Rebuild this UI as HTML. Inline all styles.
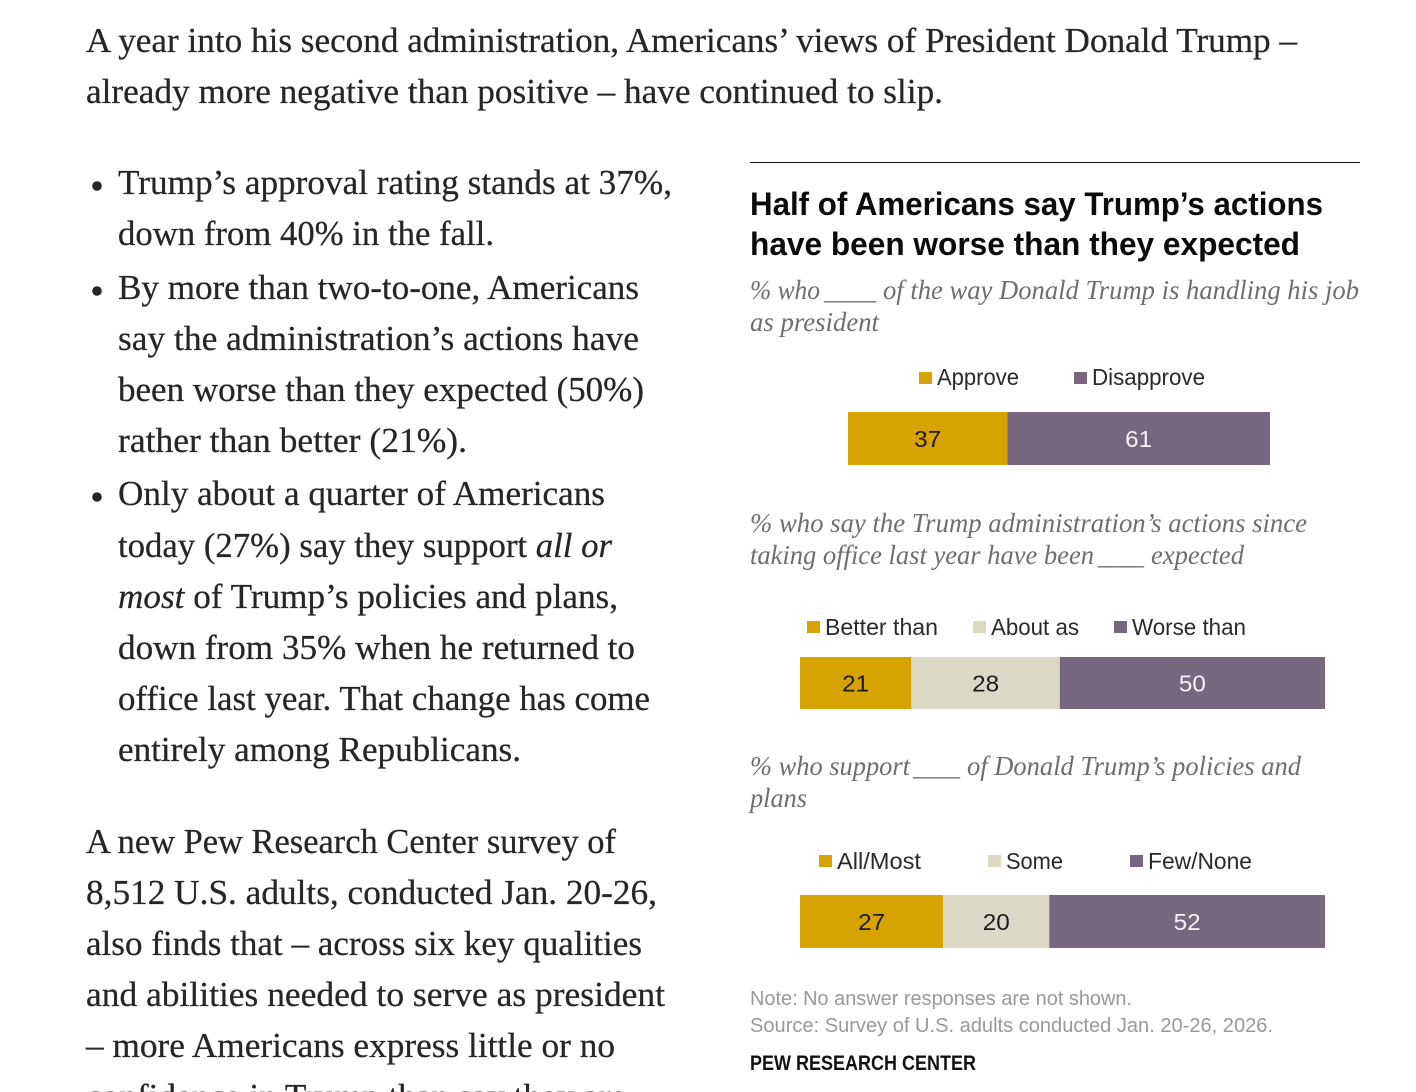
<!DOCTYPE html>
<html lang="en">
<head>
<meta charset="utf-8">
<title>Half of Americans say Trump's actions have been worse than they expected</title>
<style>
html,body{margin:0;padding:0;background:#fff;width:1416px;height:1092px;overflow:hidden}
svg{display:block}
.body text{font-family:"Liberation Serif",serif;font-size:34.5px;fill:#262626;stroke:#262626;stroke-width:.25px}
.title text{font-family:"Liberation Sans",sans-serif;font-size:32px;font-weight:700;fill:#0b0b0b}
.sub text{font-family:"Liberation Serif",serif;font-size:27px;font-style:italic;fill:#6e6e6e}
.legend text{font-family:"Liberation Sans",sans-serif;font-size:23px;fill:#2a2a2a}
.note text{font-family:"Liberation Sans",sans-serif;font-size:20.5px;fill:#999}
.brand{font-family:"Liberation Sans",sans-serif;font-size:21px;font-weight:700;fill:#111}
.value{font-family:"Liberation Sans",sans-serif;font-size:23px;text-anchor:middle}
</style>
</head>
<body>
<svg id="page" width="1416" height="1092" viewBox="0 0 1416 1092" xmlns="http://www.w3.org/2000/svg">
  <rect width="1416" height="1092" fill="#fff"/>

  <g class="body">
    <g>
      <text x="86" y="52" textLength="1211" lengthAdjust="spacingAndGlyphs">A year into his second administration, Americans’ views of President Donald Trump –</text>
      <text x="86" y="103" textLength="857" lengthAdjust="spacingAndGlyphs">already more negative than positive – have continued to slip.</text>
    </g>
    <circle cx="97" cy="186" r="4.8" fill="#262626"/>
    <g>
      <text x="118" y="194" textLength="554" lengthAdjust="spacingAndGlyphs">Trump’s approval rating stands at 37%,</text>
      <text x="118" y="245" textLength="376" lengthAdjust="spacingAndGlyphs">down from 40% in the fall.</text>
    </g>
    <circle cx="97" cy="291" r="4.8" fill="#262626"/>
    <g>
      <text x="118" y="299" textLength="521" lengthAdjust="spacingAndGlyphs">By more than two-to-one, Americans</text>
      <text x="118" y="350" textLength="521" lengthAdjust="spacingAndGlyphs">say the administration’s actions have</text>
      <text x="118" y="401" textLength="526" lengthAdjust="spacingAndGlyphs">been worse than they expected (50%)</text>
      <text x="118" y="452" textLength="349" lengthAdjust="spacingAndGlyphs">rather than better (21%).</text>
    </g>
    <circle cx="97" cy="497" r="4.8" fill="#262626"/>
    <g>
      <text x="118" y="505" textLength="487" lengthAdjust="spacingAndGlyphs">Only about a quarter of Americans</text>
      <text x="118" y="557" textLength="494" lengthAdjust="spacingAndGlyphs">today (27%) say they support <tspan font-style="italic">all or</tspan></text>
      <text x="118" y="608" textLength="500" lengthAdjust="spacingAndGlyphs"><tspan font-style="italic">most</tspan> of Trump’s policies and plans,</text>
      <text x="118" y="659" textLength="517" lengthAdjust="spacingAndGlyphs">down from 35% when he returned to</text>
      <text x="118" y="710" textLength="532" lengthAdjust="spacingAndGlyphs">office last year. That change has come</text>
      <text x="118" y="761" textLength="403" lengthAdjust="spacingAndGlyphs">entirely among Republicans.</text>
    </g>
    <g>
      <text x="86" y="853" textLength="530" lengthAdjust="spacingAndGlyphs">A new Pew Research Center survey of</text>
      <text x="86" y="904" textLength="571" lengthAdjust="spacingAndGlyphs">8,512 U.S. adults, conducted Jan. 20-26,</text>
      <text x="86" y="955" textLength="556" lengthAdjust="spacingAndGlyphs">also finds that – across six key qualities</text>
      <text x="86" y="1006" textLength="579" lengthAdjust="spacingAndGlyphs">and abilities needed to serve as president</text>
      <text x="86" y="1057" textLength="529" lengthAdjust="spacingAndGlyphs">– more Americans express little or no</text>
      <text x="86" y="1108" textLength="540" lengthAdjust="spacingAndGlyphs">confidence in Trump than say they are</text>
    </g>
  </g>

  <g>
    <line x1="750" y1="162.5" x2="1360" y2="162.5" stroke="#111" stroke-width="1"/>
    <g class="title">
      <text x="750" y="215" textLength="573" lengthAdjust="spacingAndGlyphs">Half of Americans say Trump’s actions</text>
      <text x="750" y="255" textLength="550" lengthAdjust="spacingAndGlyphs">have been worse than they expected</text>
    </g>

    <g class="sub">
      <text x="750" y="299" textLength="70" lengthAdjust="spacingAndGlyphs">% who</text>
      <text x="824" y="299" textLength="52" lengthAdjust="spacingAndGlyphs">____</text>
      <text x="883" y="299" textLength="476" lengthAdjust="spacingAndGlyphs">of the way Donald Trump is handling his job</text>
      <text x="750" y="331" textLength="129" lengthAdjust="spacingAndGlyphs">as president</text>
    </g>
    <g class="legend">
      <rect x="919" y="372" width="13" height="12" fill="#d6a302"/>
      <text x="937" y="385" textLength="82" lengthAdjust="spacingAndGlyphs">Approve</text>
      <rect x="1074" y="372" width="13" height="12" fill="#77677e"/>
      <text x="1092" y="385" textLength="113" lengthAdjust="spacingAndGlyphs">Disapprove</text>
    </g>
    <g id="approval-bar"></g>

    <g class="sub">
      <text x="750" y="532" textLength="557" lengthAdjust="spacingAndGlyphs">% who say the Trump administration’s actions since</text>
      <text x="750" y="564" textLength="344" lengthAdjust="spacingAndGlyphs">taking office last year have been</text>
      <text x="1098" y="564" textLength="46" lengthAdjust="spacingAndGlyphs">____</text>
      <text x="1151" y="564" textLength="93" lengthAdjust="spacingAndGlyphs">expected</text>
    </g>
    <g class="legend">
      <rect x="807" y="621" width="13" height="12" fill="#d6a302"/>
      <text x="825" y="635" textLength="113" lengthAdjust="spacingAndGlyphs">Better than</text>
      <rect x="973" y="621" width="13" height="12" fill="#dcd8c6"/>
      <text x="991" y="635" textLength="88" lengthAdjust="spacingAndGlyphs">About as</text>
      <rect x="1114" y="621" width="13" height="12" fill="#77677e"/>
      <text x="1132" y="635" textLength="114" lengthAdjust="spacingAndGlyphs">Worse than</text>
    </g>
    <g id="expectations-bar"></g>

    <g class="sub">
      <text x="750" y="775" textLength="160" lengthAdjust="spacingAndGlyphs">% who support</text>
      <text x="913" y="775" textLength="47" lengthAdjust="spacingAndGlyphs">____</text>
      <text x="967" y="775" textLength="334" lengthAdjust="spacingAndGlyphs">of Donald Trump’s policies and</text>
      <text x="750" y="807" textLength="57" lengthAdjust="spacingAndGlyphs">plans</text>
    </g>
    <g class="legend">
      <rect x="819" y="855" width="13" height="12" fill="#d6a302"/>
      <text x="837" y="869" textLength="84" lengthAdjust="spacingAndGlyphs">All/Most</text>
      <rect x="988" y="855" width="13" height="12" fill="#dcd8c6"/>
      <text x="1006" y="869" textLength="57" lengthAdjust="spacingAndGlyphs">Some</text>
      <rect x="1130" y="855" width="13" height="12" fill="#77677e"/>
      <text x="1148" y="869" textLength="104" lengthAdjust="spacingAndGlyphs">Few/None</text>
    </g>
    <g id="support-bar"></g>

    <g class="note">
      <text x="750" y="1005" textLength="382" lengthAdjust="spacingAndGlyphs">Note: No answer responses are not shown.</text>
      <text x="750" y="1032" textLength="523" lengthAdjust="spacingAndGlyphs">Source: Survey of U.S. adults conducted Jan. 20-26, 2026.</text>
    </g>
    <text class="brand" x="750" y="1070" textLength="226" lengthAdjust="spacingAndGlyphs">PEW RESEARCH CENTER</text>
  </g>
</svg>

<script>
const approvalCategories = ['Approve', 'Disapprove'];
const approvalValues = [37, 61];
const expectationCategories = ['Better than', 'About as', 'Worse than'];
const expectationValues = [21, 28, 50];
const supportCategories = ['All/Most', 'Some', 'Few/None'];
const supportValues = [27, 20, 52];

const SVG_NS = 'http://www.w3.org/2000/svg';
const GOLD = '#d6a302', BEIGE = '#dcd8c6', PURPLE = '#77677e';

function linearAxis(domainMax, rangeStart, rangeEnd) {
  return function (v) {
    return rangeStart + (v / domainMax) * (rangeEnd - rangeStart);
  };
}

function slug(s) {
  return s.toLowerCase().replace(/[^a-z0-9]+/g, '-');
}

function drawStackedBar(groupId, categories, values, colors, x, top, height) {
  const group = document.getElementById(groupId);
  let running = 0;
  values.forEach(function (value, i) {
    const x0 = x(running);
    const x1 = x(running + value);
    running += value;

    const rect = document.createElementNS(SVG_NS, 'rect');
    rect.setAttribute('x', x0);
    rect.setAttribute('y', top);
    rect.setAttribute('width', x1 - x0);
    rect.setAttribute('height', height);
    rect.setAttribute('fill', colors[i]);
    
    
    group.appendChild(rect);

    const label = document.createElementNS(SVG_NS, 'text');
    label.setAttribute('class', 'value');
    label.setAttribute('x', (x0 + x1) / 2);
    label.setAttribute('y', top + height / 2 + 8.5);
    label.setAttribute('fill', colors[i] === PURPLE ? '#f4f2f5' : '#1c1c1c');
    label.setAttribute('textLength', String(value).length * 13.5);
    label.setAttribute('lengthAdjust', 'spacingAndGlyphs');
    
    
    label.textContent = value;
    group.appendChild(label);
  });
}

const approvalAxis = linearAxis(98, 848, 1270);
const expectationAxis = linearAxis(99, 800, 1325);
const supportAxis = linearAxis(99, 800, 1325);

drawStackedBar('approval-bar', approvalCategories, approvalValues, [GOLD, PURPLE], approvalAxis, 412, 53);
drawStackedBar('expectations-bar', expectationCategories, expectationValues, [GOLD, BEIGE, PURPLE], expectationAxis, 657, 52);
drawStackedBar('support-bar', supportCategories, supportValues, [GOLD, BEIGE, PURPLE], supportAxis, 895, 53);
</script>
</body>
</html>
